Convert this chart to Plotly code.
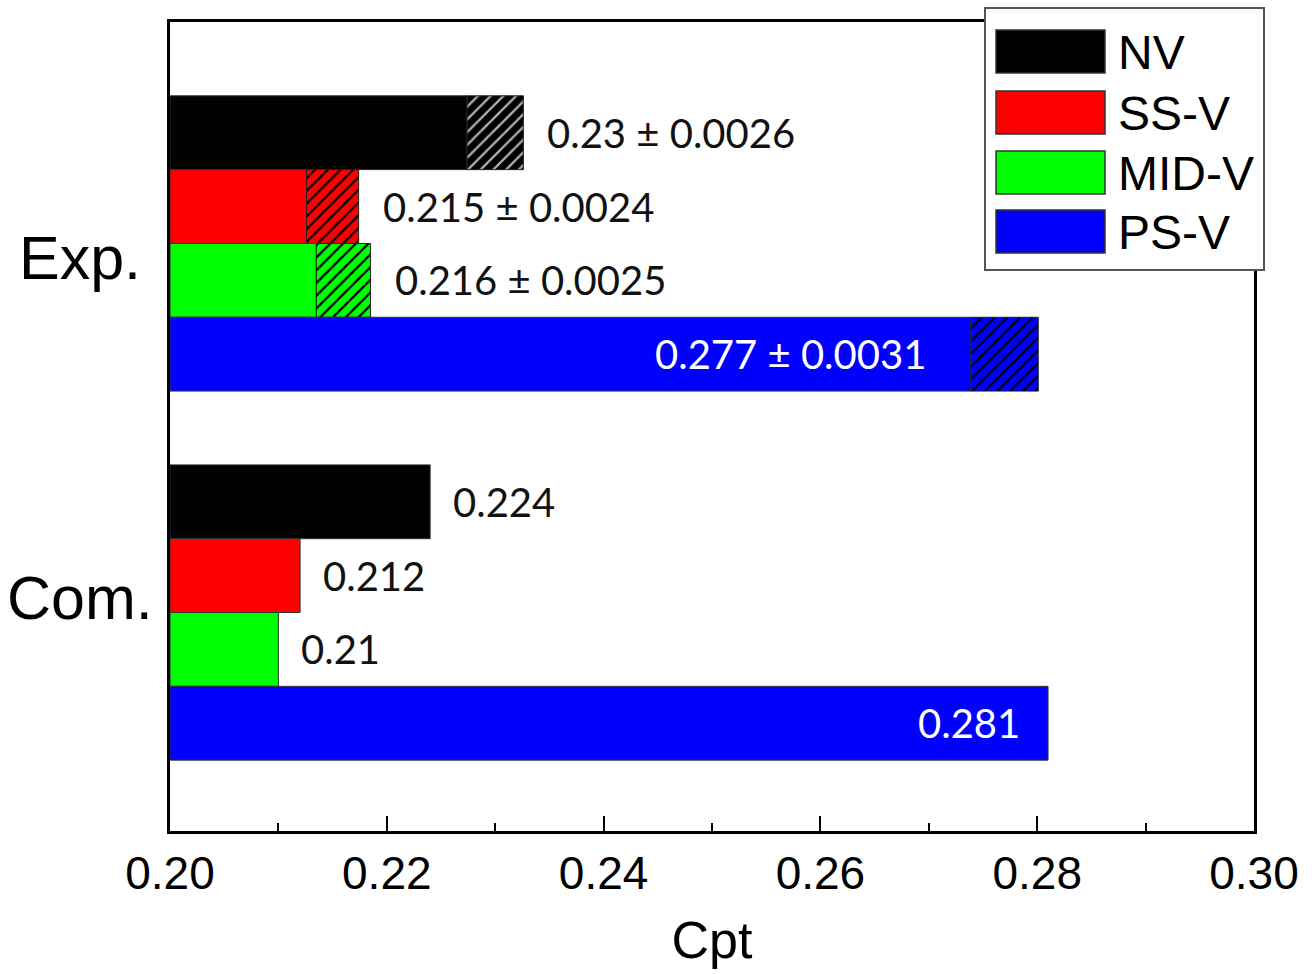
import plotly.graph_objects as go

# ---------------- data ----------------
series = ["NV", "SS-V", "MID-V", "PS-V"]
colors = ["#000000", "#ff0000", "#00ff00", "#0000ff"]
hatch_colors = ["#b4b4b4", "#000000", "#000000", "#000000"]
groups = ["Exp.", "Com."]
group_label_pos = [1.7, 6.3]
exp_vals = [0.23, 0.215, 0.216, 0.277]
exp_errs = [0.0026, 0.0024, 0.0025, 0.0031]
com_vals = [0.224, 0.212, 0.21, 0.281]
base_val = 0.20
x_ticks = [0.20, 0.22, 0.24, 0.26, 0.28, 0.30]

# ---------------- layout geometry (pixels) ----------------
W, H = 1316, 974
L, R, T, B = 170, 62, 22, 143
PW, PH = W - L - R, H - T - B


def px_x(p):
    return (p - L) / PW


def px_y(p):
    return 1 - (p - T) / PH


exp_pos = [i for i in range(len(series))]
com_pos = [i + len(series) + 1 for i in range(len(series))]

fig = go.Figure()

for i, name in enumerate(series):
    # solid parts
    fig.add_trace(go.Bar(
        y=[exp_pos[i], com_pos[i]],
        x=[exp_vals[i] - exp_errs[i] - base_val, com_vals[i] - base_val],
        base=[base_val, base_val],
        orientation="h",
        width=1,
        marker=dict(color=colors[i], line=dict(color="#333333", width=1)),
        name=name,
        showlegend=False,
    ))
    # hatched uncertainty part
    fig.add_trace(go.Bar(
        y=[exp_pos[i]],
        x=[2 * exp_errs[i]],
        base=[exp_vals[i] - exp_errs[i]],
        orientation="h",
        width=1,
        marker=dict(
            color=colors[i],
            line=dict(color="#222222", width=1),
            pattern=dict(shape="/", fillmode="replace", bgcolor=colors[i],
                         fgcolor=hatch_colors[i], size=9, solidity=0.25),
        ),
        showlegend=False,
    ))

annotations = []
label_font = dict(family="Lato, Open Sans, sans-serif", size=40, color="#111111")
for i in range(len(series)):
    exp_txt = f"{exp_vals[i]:g} ± {exp_errs[i]:g}"
    com_txt = f"{com_vals[i]:g}"
    inside = i == len(series) - 1
    if inside:
        annotations.append(dict(x=exp_vals[i] - exp_errs[i], y=exp_pos[i], text=exp_txt,
                                xanchor="right", xshift=-43, showarrow=False,
                                font=dict(label_font, color="white")))
        annotations.append(dict(x=com_vals[i], y=com_pos[i], text=com_txt,
                                xanchor="right", xshift=-26, showarrow=False,
                                font=dict(label_font, color="white")))
    else:
        annotations.append(dict(x=exp_vals[i] + exp_errs[i], y=exp_pos[i], text=exp_txt,
                                xanchor="left", xshift=22, showarrow=False, font=label_font))
        annotations.append(dict(x=com_vals[i], y=com_pos[i], text=com_txt,
                                xanchor="left", xshift=21, showarrow=False, font=label_font))

# group (category) labels on the left, centred like the original
for g, pos in zip(groups, group_label_pos):
    annotations.append(dict(xref="paper", yref="y", x=px_x(80), y=pos, text=g,
                            xanchor="center", yanchor="middle", showarrow=False,
                            font=dict(family="Liberation Sans, Arial", size=61, color="black")))

# custom legend with large swatches
shapes = [dict(type="rect", xref="paper", yref="paper",
               x0=px_x(985), x1=px_x(1264), y0=px_y(270), y1=px_y(8),
               line=dict(color="#555555", width=2), fillcolor="white", layer="above")]
row_tops = [30, 91, 151, 210]
for i, name in enumerate(series):
    top = row_tops[i]
    shapes.append(dict(type="rect", xref="paper", yref="paper",
                       x0=px_x(996), x1=px_x(1105), y0=px_y(top + 43), y1=px_y(top),
                       line=dict(color="#333333", width=1.5), fillcolor=colors[i], layer="above"))
    annotations.append(dict(xref="paper", yref="paper", x=px_x(1116), y=px_y(top + 22),
                            text=name, xanchor="left", yanchor="middle", showarrow=False,
                            font=dict(family="Liberation Sans, Arial", size=48, color="black")))

fig.update_layout(
    width=W, height=H,
    margin=dict(l=L, r=R, t=T, b=B),
    paper_bgcolor="white", plot_bgcolor="white",
    barmode="overlay",
    showlegend=False,
    shapes=shapes,
    annotations=annotations,
    font=dict(family="Liberation Sans, Arial", color="black"),
)

fig.update_xaxes(
    automargin=False,
    range=[x_ticks[0], x_ticks[-1]],
    tickvals=x_ticks, tickformat=".2f",
    ticks="inside", ticklen=15, tickwidth=2, tickcolor="black",
    minor=dict(ticks="inside", ticklen=8, tickwidth=2, dtick=0.01, tickcolor="black"),
    showline=True, linecolor="black", linewidth=2.5, mirror=True,
    showgrid=False, zeroline=False,
    tickfont=dict(family="Liberation Sans, Arial", size=46, color="black"),
    title=dict(text="Cpt", font=dict(family="Liberation Sans, Arial", size=52, color="black"),
               standoff=24),
)

fig.update_yaxes(
    automargin=False,
    range=[9.46, -1.50],
    showticklabels=False, ticks="",
    showline=True, linecolor="black", linewidth=2.5, mirror=True,
    showgrid=False, zeroline=False,
)

fig.write_html("out.html")
